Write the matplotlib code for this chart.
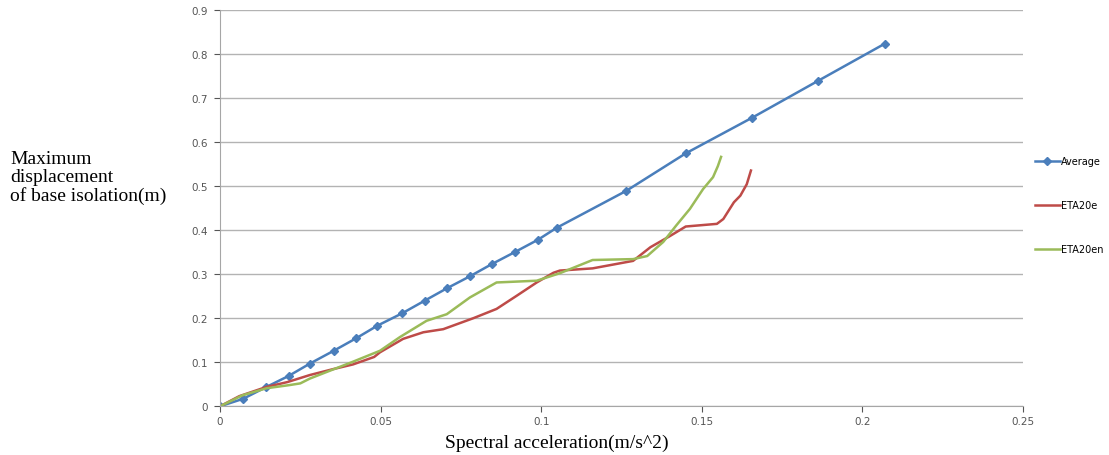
import matplotlib
matplotlib.use("Agg")
import matplotlib.pyplot as plt

# Average (points with markers)
avg_x = [0, 0.0072, 0.0142, 0.0214, 0.028, 0.0354, 0.0423, 0.049, 0.0567, 0.0638,
         0.0707, 0.0778, 0.0847, 0.0918, 0.099, 0.1048, 0.1265, 0.145, 0.1657, 0.1863, 0.207]
avg_y = [0, 0.017, 0.043, 0.069, 0.097, 0.126, 0.154, 0.183, 0.211, 0.24,
         0.268, 0.295, 0.323, 0.35, 0.378, 0.405, 0.489, 0.574, 0.655, 0.739, 0.823]

# ETA20e
e_x = [0, 0.006, 0.0145, 0.021, 0.028, 0.035, 0.0414, 0.048, 0.0498, 0.057, 0.0633, 0.0695,
       0.0789, 0.0861, 0.0924, 0.0986, 0.1038, 0.1058, 0.116, 0.1286, 0.134, 0.140, 0.145,
       0.1547, 0.1567, 0.160, 0.162, 0.164, 0.1653]
e_y = [0, 0.023, 0.044, 0.055, 0.071, 0.084, 0.095, 0.112, 0.1225, 0.153, 0.168, 0.175,
       0.200, 0.221, 0.251, 0.281, 0.303, 0.308, 0.313, 0.330, 0.361, 0.386, 0.408,
       0.414, 0.425, 0.463, 0.478, 0.504, 0.535]

# ETA20en
en_x = [0, 0.007, 0.0145, 0.0215, 0.025, 0.028, 0.035, 0.041, 0.0498, 0.056, 0.0643, 0.0706,
        0.0778, 0.0861, 0.0986, 0.1058, 0.116, 0.1286, 0.133, 0.138, 0.142, 0.1463, 0.1504,
        0.1535, 0.155, 0.156]
en_y = [0, 0.025, 0.041, 0.048, 0.052, 0.063, 0.083, 0.1, 0.126, 0.157, 0.194, 0.209,
        0.247, 0.281, 0.285, 0.302, 0.332, 0.334, 0.341, 0.373, 0.41, 0.448, 0.493,
        0.52, 0.545, 0.566]

xticks = [0, 0.05, 0.1, 0.15, 0.2, 0.25]
xtick_labels = ["0", "0.05", "0.1", "0.15", "0.2", "0.25"]
yticks = [0, 0.1, 0.2, 0.3, 0.4, 0.5, 0.6, 0.7, 0.8, 0.9]
ytick_labels = ["0", "0.1", "0.2", "0.3", "0.4", "0.5", "0.6", "0.7", "0.8", "0.9"]

fig = plt.figure(figsize=(11.09, 4.56), dpi=100)
ax = fig.add_axes([220 / 1109, 1 - 407.3 / 456, 803 / 1109, 396.6 / 456])

ax.plot(avg_x, avg_y, color="#4a7ebb", lw=1.8, marker="D", ms=4, label="Average")
ax.plot(e_x, e_y, color="#be4b48", lw=1.8, label="ETA20e")
ax.plot(en_x, en_y, color="#9bbb59", lw=1.8, label="ETA20en")

ax.set_xlim(0, 0.25)
ax.set_ylim(0, 0.9)
ax.set_xticks(xticks)
ax.set_xticklabels(xtick_labels)
ax.set_yticks(yticks)
ax.set_yticklabels(ytick_labels)
ax.tick_params(labelsize=7.5, colors="#555555", length=4, width=0.8, pad=3)
ax.tick_params(axis="y", pad=5)
ax.yaxis.grid(True, color="#b3b3b3", lw=1)
ax.set_axisbelow(True)
for s in ["top", "right"]:
    ax.spines[s].set_visible(False)
for s in ["left", "bottom"]:
    ax.spines[s].set_color("#a6a6a6")

ax.set_xlabel("Spectral acceleration(m/s^2)", family="Liberation Serif", fontsize=14)
ax.xaxis.set_label_coords((557 - 220) / 803, -0.07)
fig.text(10 / 1109, 1 - 151 / 456, "Maximum\ndisplacement\nof base isolation(m)",
         family="Liberation Serif", fontsize=14, ha="left", va="top", linespacing=1.06)

ax.legend(loc="center left", bbox_to_anchor=(1.006, 0.5076), frameon=False,
          fontsize=7, labelspacing=3.5, handlelength=2.6, handletextpad=0.15,
          borderpad=0.2)

fig.savefig("out.png", dpi=100)
